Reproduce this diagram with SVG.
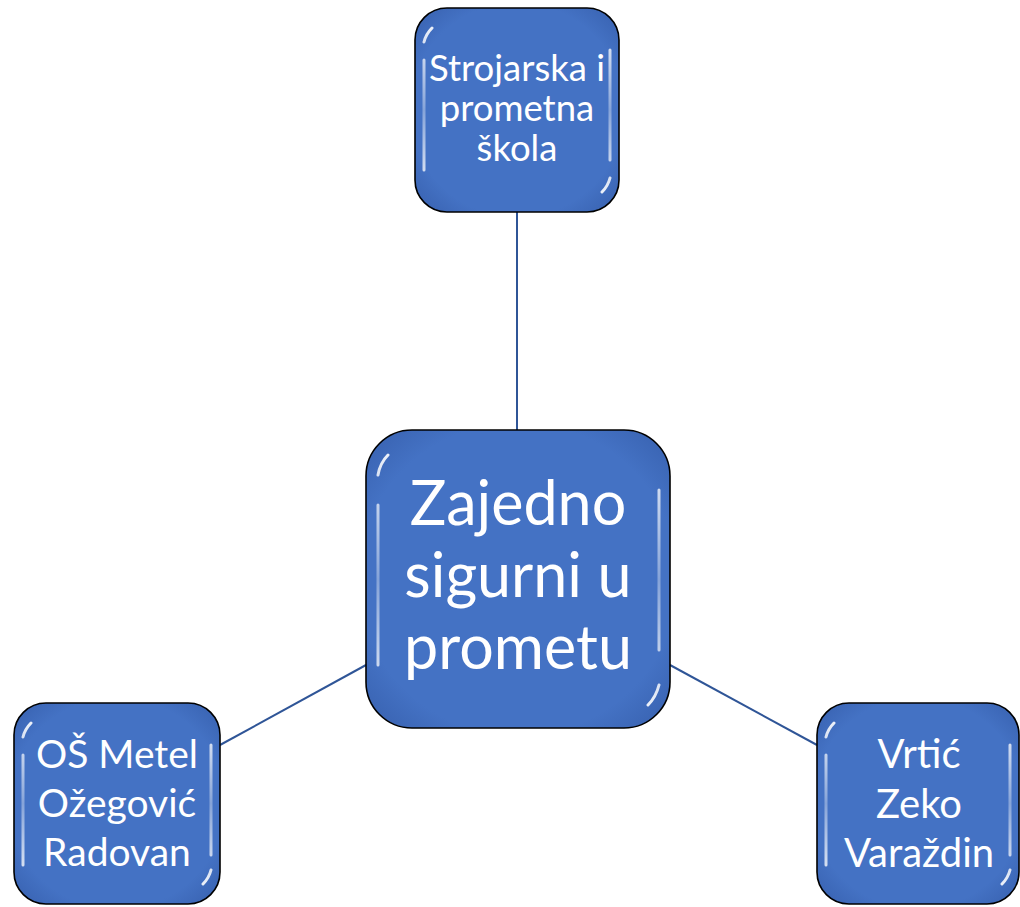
<svg xmlns="http://www.w3.org/2000/svg" width="1020" height="907" viewBox="0 0 1020 907">
<defs>
<linearGradient id="hl" x1="0" y1="0" x2="0" y2="1">
<stop offset="0" stop-color="#ffffff" stop-opacity="0.9"/>
<stop offset="0.5" stop-color="#ffffff" stop-opacity="0.35"/>
<stop offset="1" stop-color="#ffffff" stop-opacity="0.9"/>
</linearGradient>
<radialGradient id="body" cx="0.5" cy="0.5" r="0.7">
<stop offset="0.75" stop-color="#4472C4"/>
<stop offset="1" stop-color="#3760AE"/>
</radialGradient>
</defs>
<style>
.box{fill:url(#body);stroke:#000;stroke-width:1.6}
.hl{fill:none;stroke:url(#hl);stroke-width:3;stroke-linecap:round}
.t{font-family:Lato,"Liberation Sans",sans-serif;fill:#fff;text-anchor:middle}
.c{stroke:#2F5597;stroke-width:2;fill:none}
</style>
<g id="connectors">
<line class="c" x1="517" y1="212" x2="517" y2="430"/>
<line class="c" x1="220" y1="745" x2="366" y2="665"/>
<line class="c" x1="670" y1="665" x2="817" y2="745"/>
</g>
<g id="node-top">
<rect class="box" x="415" y="8" width="204" height="204" rx="32"/>
<path class="hl" d="M424 60 V170 M610 50 V160 M432 28 Q426 34 424 42 M602 192 Q608 186 610 178"/>
<text class="t" font-size="36.5" x="517" y="81">Strojarska i</text>
<text class="t" font-size="36.5" x="517" y="121">prometna</text>
<text class="t" font-size="36.5" x="517" y="161">škola</text>
</g>
<g id="node-center">
<rect class="box" x="366" y="430" width="304" height="298" rx="46"/>
<path class="hl" d="M378 505 V665 M659 490 V650 M388 455 Q380 463 378 475 M648 705 Q656 697 659 685"/>
<text class="t" font-size="61" x="518" y="525">Zajedno</text>
<text class="t" font-size="61" x="518" y="597">sigurni u</text>
<text class="t" font-size="61" x="518" y="669">prometu</text>
</g>
<g id="node-left">
<rect class="box" x="14" y="703" width="206" height="201" rx="32"/>
<path class="hl" d="M23 755 V865 M211 745 V855 M31 723 Q25 729 23 737 M203 884 Q209 878 211 870"/>
<text class="t" font-size="39" x="117" y="768">OŠ Metel</text>
<text class="t" font-size="39" x="117" y="817">Ožegović</text>
<text class="t" font-size="39" x="117" y="866">Radovan</text>
</g>
<g id="node-right">
<rect class="box" x="817" y="703" width="202" height="201" rx="32"/>
<path class="hl" d="M826 755 V865 M1010 745 V855 M834 723 Q828 729 826 737 M1002 884 Q1008 878 1010 870"/>
<text class="t" font-size="40" x="919" y="768">Vrtić</text>
<text class="t" font-size="40" x="919" y="818">Zeko</text>
<text class="t" font-size="40" x="919" y="867">Varaždin</text>
</g>
</svg>
